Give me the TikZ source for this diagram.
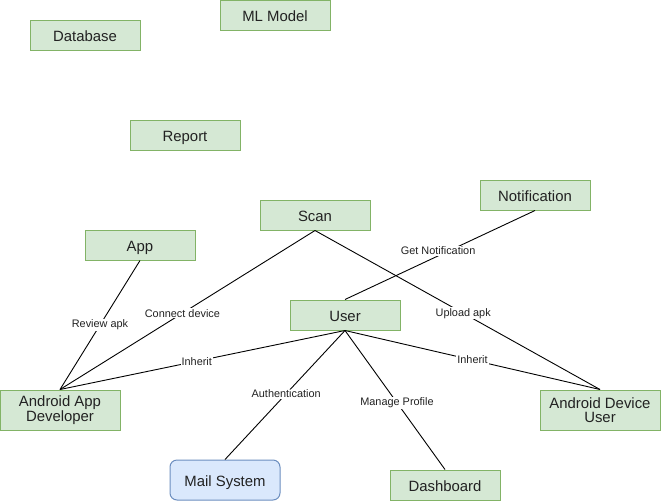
\documentclass[tikz,border=0pt]{standalone}
\usepackage{fontspec}
\setmainfont{Liberation Sans}
\begin{document}
\begin{tikzpicture}[x=1pt,y=-1pt,
  box/.style={draw=boxline,fill=boxfill,line width=1pt,inner sep=0pt,align=center,
    font=\fontsize{14.9}{14.6}\selectfont,text=txt},
  onebox/.style={box,minimum width=110pt,minimum height=30pt,text height=12.4pt,text depth=0pt},
  twobox/.style={box,minimum width=120pt,minimum height=40pt},
  bluebox/.style={onebox,draw=blueline,fill=bluefill,rounded corners=7pt,minimum height=40pt},
  link/.style={draw=black,line width=0.9pt},
  lbl/.style={fill=white,inner sep=1pt,font=\fontsize{10.9}{12}\selectfont,text=txt,pos=0.53}]
\definecolor{boxfill}{HTML}{D5E8D4}
\definecolor{boxline}{HTML}{82B366}
\definecolor{bluefill}{HTML}{DAE8FC}
\definecolor{blueline}{HTML}{6C8EBF}
\definecolor{txt}{HTML}{222222}
\useasboundingbox (0,0) rectangle (661,501);
\node[onebox] (db) at (85,35) {Database};
\node[onebox] (ml) at (275,15) {ML Model};
\node[onebox] (rep) at (185,135) {Report};
\node[onebox] (notif) at (535,195) {Notification};
\node[onebox] (scan) at (315,215) {Scan};
\node[onebox] (app) at (140,245) {App};
\node[onebox] (user) at (345,315) {User};
\node[twobox] (aad) at (60,410) {Android App\\Developer};
\node[twobox] (adu) at (600,410) {Android Device\\User};
\node[bluebox] (mail) at (225,480) {Mail System};
\node[onebox] (dash) at (445,485) {Dashboard};

\draw[link] (app.south) -- node[lbl,pos=0.5] {Review apk} (aad.north);
\draw[link] (scan.south) -- node[lbl,pos=0.52] {Connect device} (aad.north);
\draw[link] (scan.south) -- node[lbl,pos=0.52] {Upload apk} (adu.north);
\draw[link] (notif.south) -- node[lbl,pos=0.51,yshift=5pt] {Get Notification} (user.north);
\draw[link] (user.south) -- node[lbl,pos=0.52] {Inherit} (aad.north);
\draw[link] (user.south) -- node[lbl,pos=0.5] {Inherit} (adu.north);
\draw[link] (user.south) -- node[lbl,pos=0.49] {Authentication} (mail.north);
\draw[link] (user.south) -- node[lbl,pos=0.52] {Manage Profile} (dash.north);
\end{tikzpicture}
\end{document}
